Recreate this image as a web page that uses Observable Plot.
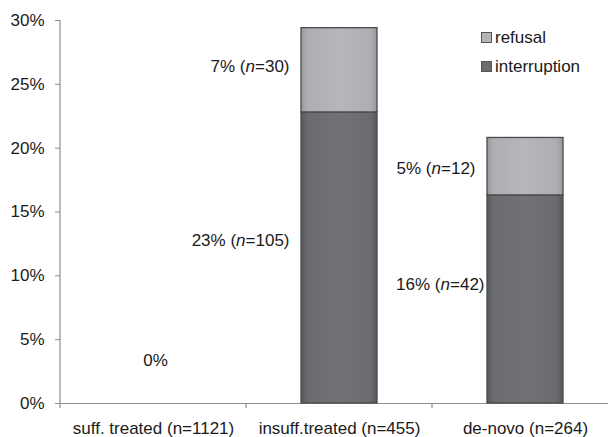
<!DOCTYPE html>
<html><head><meta charset="utf-8">
<script src="https://cdn.jsdelivr.net/npm/d3@7"></script>
<script src="https://cdn.jsdelivr.net/npm/@observablehq/plot@0.6"></script>
<style>
body{margin:0;background:#fff;}
#c{position:relative;width:608px;height:437px;font-family:"Liberation Sans",Arial,sans-serif;}
#c svg [aria-label="y-axis tick"]{stroke:#8e8e8e;}
.leg{position:absolute;left:481px;font-size:17px;color:#1a1a1a;line-height:1;}
.leg span.sw{display:inline-block;width:9px;height:9px;border:1px solid #555;margin-right:3px;vertical-align:0px;}
</style></head>
<body><div id="c"></div>
<script>
const categories = ["suff. treated (n=1121)", "insuff.treated (n=455)", "de-novo (n=264)"];
const seriesNames = ["refusal", "interruption"];
const interruption = [0, 22.8, 16.3];
const refusal = [0, 6.6, 4.5];
const yTicks = [0, 5, 10, 15, 20, 25, 30];
const labelCats = [categories[0], categories[1], categories[1], categories[2], categories[2]];
const labelTexts = ["0%", "23% (n=105)", "7% (n=30)", "16% (n=42)", "5% (n=12)"];
const labelYs = [3.4, 12.8, 26.4, 9.3, 18.4];

const rows = categories.map((c, i) => ({cat: c, i0: 0, i1: interruption[i], r1: interruption[i] + refusal[i]})).filter(d => d.r1 > 0);
const labels = labelTexts.map((t, i) => ({cat: labelCats[i], text: t, y: labelYs[i]}));

const plot = Plot.plot({
  width: 608, height: 437,
  marginTop: 20, marginBottom: 34, marginLeft: 60, marginRight: 0,
  style: {fontFamily: "'Liberation Sans', Arial, sans-serif", fontSize: "17px", color: "#1a1a1a", background: "#fff", overflow: "visible"},
  x: {domain: categories, range: [60, 618], padding: 0, label: null},
  y: {domain: [0, 30], range: [403, 20], label: null},
  marks: [
    Plot.axisY(yTicks, {tickFormat: d => d + "%", tickSize: 5, tickPadding: 11, label: null}),
    Plot.axisX({tickSize: 0, tickPadding: 18, label: null}),
    Plot.ruleY([0], {stroke: "#8e8e8e", strokeWidth: 1.2}),
    Plot.barY(rows, {x: "cat", y1: "i0", y2: "i1", fill: "url(#gI)", stroke: "#4a4b4d", strokeWidth: 1.3, insetLeft: 55, insetRight: 55}),
    Plot.barY(rows, {x: "cat", y1: "i1", y2: "r1", fill: "url(#gR)", stroke: "#4a4b4d", strokeWidth: 1.3, insetLeft: 55, insetRight: 55}),
    Plot.text(labels.filter(d => d.text === "0%"), {x: "cat", y: "y", text: "text", textAnchor: "middle", dx: 2, fill: "#1a1a1a"}),
    Plot.text(labels.filter(d => d.text !== "0%" && !d.text.startsWith("16%")), {x: "cat", y: "y", text: "text", textAnchor: "end", dx: -50, fill: "#1a1a1a"}),
    Plot.text(labels.filter(d => d.text.startsWith("16%")), {x: "cat", y: "y", text: "text", textAnchor: "end", dx: -41, fill: "#1a1a1a"})
  ]
});

const svg = d3.select(plot);
const defs = svg.insert("defs", ":first-child");
function grad(id, edge, mid, center) {
  const g = defs.append("linearGradient").attr("id", id).attr("x1", 0).attr("x2", 1).attr("y1", 0).attr("y2", 0);
  [[0, edge], [0.08, mid], [0.5, center], [0.92, mid], [1, edge]].forEach(([o, c]) => g.append("stop").attr("offset", o).attr("stop-color", c));
}
grad("gI", "#55565a", "#6a6b6f", "#717276");
grad("gR", "#96989b", "#acaeb1", "#b5b7ba");

const xs = plot.scale("x"), ys = plot.scale("y");
const x0 = xs.apply(categories[0]);
svg.append("line").attr("x1", x0).attr("x2", x0).attr("y1", ys.apply(30)).attr("y2", ys.apply(0)).attr("stroke", "#8e8e8e").attr("stroke-width", 1.2);
categories.forEach(c => {
  const x = xs.apply(c);
  svg.append("line").attr("x1", x).attr("x2", x).attr("y1", ys.apply(0)).attr("y2", ys.apply(0) + 5).attr("stroke", "#8e8e8e").attr("stroke-width", 1.2);
});

// italic n in segment labels
svg.selectAll("text").each(function() {
  const t = this.textContent;
  if (!t.includes("% (n=")) return;
  const parts = t.split("(n=");
  const s = d3.select(this);
  s.text("");
  s.append("tspan").text(parts[0] + "(");
  s.append("tspan").attr("font-style", "italic").text("n");
  s.append("tspan").text("=" + parts[1]);
});

const c = document.getElementById("c");
c.appendChild(plot);
const fills = {refusal: "#b3b5b8", interruption: "#6b6c70"};
const tops = {refusal: 29, interruption: 58};
seriesNames.forEach(n => {
  const d = document.createElement("div");
  d.className = "leg";
  d.style.top = tops[n] + "px";
  d.innerHTML = `<span class="sw" style="background:${fills[n]}"></span>${n}`;
  c.appendChild(d);
});
</script></body></html>
